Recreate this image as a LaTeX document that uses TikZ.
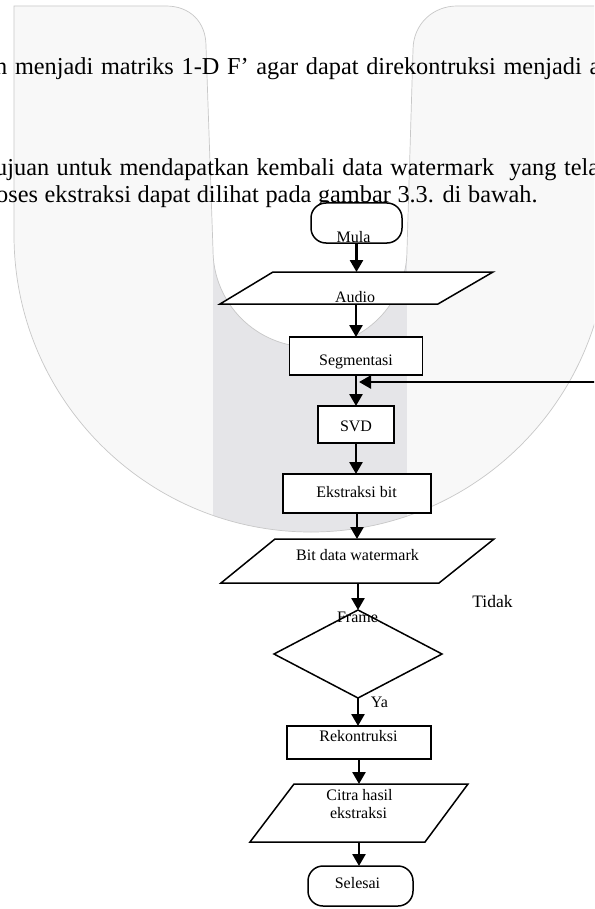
\documentclass[tikz,border=0pt]{standalone}
\usepackage{fontspec}
\setmainfont{Liberation Serif}
\usetikzlibrary{arrows.meta,shapes.geometric,calc}
\definecolor{wmfill}{RGB}{248,248,248}
\definecolor{wmband}{RGB}{229,229,232}
\definecolor{wmline}{RGB}{200,200,200}
\begin{document}
\begin{tikzpicture}[x=1pt,y=-1pt,
  shp/.style={draw=black, line width=1.5pt, fill=white},
  boxn/.style={shp, rectangle, inner sep=0pt, outer sep=0pt},
  term/.style={boxn, rounded corners=15pt},
  anch/.style={rectangle, draw=none, inner sep=0pt, outer sep=0pt},
  decis/.style={shp, diamond, inner sep=0pt, outer sep=0pt},
  arr/.style={line width=2.6pt, -{Triangle[width=13pt,length=12pt]}},
  lbl/.style={inner sep=0pt, anchor=base, font=\fontsize{16}{18}\selectfont},
  body/.style={inner sep=0pt, anchor=base west, font=\fontsize{24.3}{28}\selectfont},
]
\useasboundingbox (0,0) rectangle (594,909);
\fill[white] (0,0) rectangle (594,909);
\begin{scope}
\clip (0,0) rectangle (594,909);
% watermark
\fill[wmfill] (14,235) -- (14,6) -- (166,6) .. controls (190,6) and (206,22) .. (206,46) -- (213,250)
  arc[start angle=180, end angle=0, radius=97] -- (413,50) .. controls (413,24) and (433,6) .. (457,6)
  -- (608,6) -- (608,235) arc[start angle=0, end angle=180, radius=297] -- cycle;
\begin{scope}
\clip (14,235) -- (14,6) -- (166,6) .. controls (190,6) and (206,22) .. (206,46) -- (213,250)
  arc[start angle=180, end angle=0, radius=97] -- (413,50) .. controls (413,24) and (433,6) .. (457,6)
  -- (608,6) -- (608,235) arc[start angle=0, end angle=180, radius=297] -- cycle;
\fill[wmband] (213,0) rectangle (407,909);
\end{scope}
\draw[wmline, line width=0.7pt] (14,235) -- (14,6) -- (166,6) .. controls (190,6) and (206,22) .. (206,46) -- (213,250)
  arc[start angle=180, end angle=0, radius=97] -- (413,50) .. controls (413,24) and (433,6) .. (457,6)
  -- (608,6) -- (608,235) arc[start angle=0, end angle=180, radius=297] -- cycle;
% body text
\node[body] (t1) at (-5,75) {\spaceskip=7.7pt n menjadi matriks 1-D F’ agar dapat direkontruksi menjadi a};
\node[body] (t2) at (-5,175.5) {\spaceskip=7.5pt ujuan untuk mendapatkan kembali data watermark\hspace{7.5pt} yang tela};
\node[body] (t3) at (-4,203) {\spaceskip=6.6pt oses ekstraksi dapat dilihat pada gambar 3.3. di bawah.};
% flowchart shapes
\node[term, minimum width=91pt, minimum height=40pt] (mula) at (356.5,223) {};
\draw[shp] (220,304) -- (273,272) -- (493,272) -- (438,304) -- cycle;
\node[anch, minimum width=218pt, minimum height=32pt] (audio) at (356,288) {};
\node[boxn, minimum width=133pt, minimum height=38pt] (seg) at (356,356) {};
\node[boxn, minimum width=76pt, minimum height=37pt] (svd) at (356,424.5) {};
\node[boxn, minimum width=148pt, minimum height=39pt] (ekstr) at (357,493.5) {};
\draw[shp] (221,583) -- (275,539) -- (494,539) -- (439,583) -- cycle;
\node[anch, minimum width=218pt, minimum height=44pt] (bit) at (358,561) {};
\node[decis, minimum width=168pt, minimum height=88pt] (dia) at (358,654) {};
\node[boxn, minimum width=144pt, minimum height=33pt] (rek) at (359,742.5) {};
\draw[shp] (250,842) -- (294,784) -- (468,784) -- (425,842) -- cycle;
\node[anch, minimum width=175pt, minimum height=58pt] (citra) at (359,813) {};
\node[term, minimum width=105pt, minimum height=40pt] (selesai) at (360.5,886) {};
% labels
\node[lbl] (mulaL) at (353.5,242) {Mula};
\node[lbl] (audioL) at (355,302.5) {Audio};
\node[lbl] (segL) at (356,365) {Segmentasi};
\node[lbl] (svdL) at (356,431.5) {SVD};
\node[lbl] (ekL) at (356.5,497) {Ekstraksi bit};
\node[lbl] (bitL) at (357.5,560) {Bit data watermark};
\node[lbl] (frameL) at (357.5,622.5) {Frame};
\node[lbl, font=\fontsize{17.5}{20}\selectfont] (tidakL) at (492.5,607) {Tidak};
\node[lbl] (yaL) at (379.5,707) {Ya};
\node[lbl] (rekL) at (358.5,741.5) {Rekontruksi};
\node[lbl] (citraL1) at (359.5,800) {Citra hasil};
\node[lbl] (citraL2) at (358.5,818) {ekstraksi};
\node[lbl] (selL) at (357.5,888) {Selesai};
% connectors
\draw[arr] (mula.south) -- (mula.south |- audio.north);
\draw[arr] (audio.south) -- (audio.south |- seg.north);
\draw[arr] (seg.south) -- (seg.south |- svd.north);
\draw[arr] (svd.south) -- (svd.south |- ekstr.north);
\draw[arr] (ekstr.south) -- (ekstr.south |- bit.north);
\draw[arr] (bit.south) -- (bit.south |- dia.north);
\draw[arr] (dia.south) -- (dia.south |- rek.north);
\draw[arr] (rek.south) -- (rek.south |- citra.north);
\draw[arr] (citra.south) -- (citra.south |- selesai.north);
\coordinate (fbstart) at (600,382);
\coordinate (fbend) at (359,382);
\draw[arr] (fbstart) -- (fbend);
\end{scope}
\end{tikzpicture}
\end{document}
